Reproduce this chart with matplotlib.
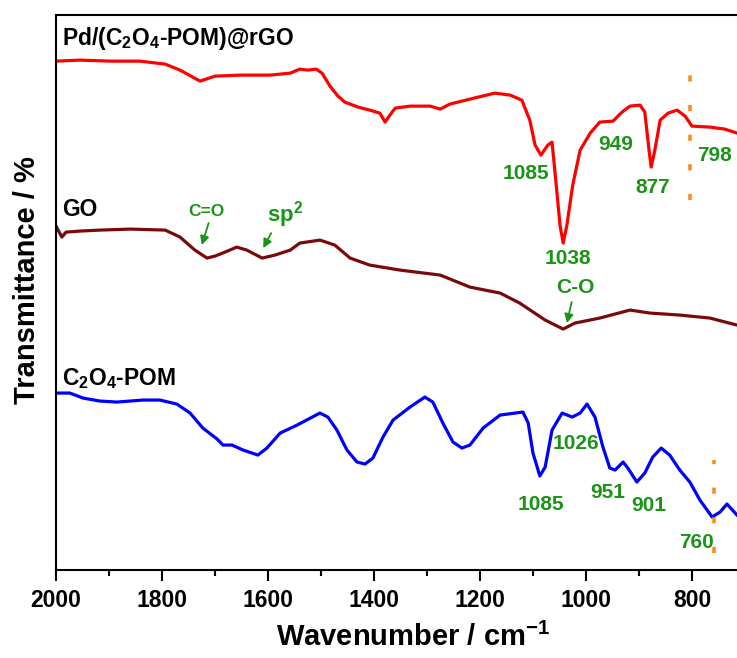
import matplotlib
matplotlib.use('Agg')
from matplotlib import pyplot as plt
from matplotlib.ticker import MultipleLocator

plt.rcParams['font.family'] = ['Liberation Sans', 'DejaVu Sans']
plt.rcParams['font.weight'] = 'bold'
plt.rcParams['axes.labelweight'] = 'bold'
plt.rcParams['mathtext.fontset'] = 'custom'
plt.rcParams['mathtext.rm'] = 'Liberation Sans:bold'
plt.rcParams['mathtext.default'] = 'rm'

# Pd/(C2O4-POM)@rGO (red)
wn_pd = [2000, 1955, 1898, 1842, 1794, 1766, 1742, 1728, 1717, 1700,
         1653, 1596, 1558, 1540, 1525, 1509, 1498, 1483, 1468, 1455,
         1430, 1408, 1389, 1379, 1370, 1360, 1332, 1294, 1275, 1257,
         1219, 1172, 1143, 1121, 1106, 1096, 1085, 1072, 1064, 1057,
         1049, 1043, 1036, 1025, 1011, 992, 974, 949, 932, 917,
         898, 889, 881, 877, 870, 860, 845, 828, 813, 800,
         766, 738, 715]
t_pd = [509, 510, 509, 509, 506, 500, 493, 489, 491, 494,
        495, 495, 497, 501, 500, 501, 497, 484, 474, 468,
        463, 460, 457, 448, 455, 462, 464, 464, 461, 466,
        471, 477, 475, 470, 450, 425, 415, 425, 428, 390,
        345, 327, 345, 385, 420, 437, 448, 449, 458, 464,
        465, 458, 420, 403, 420, 450, 457, 460, 454, 444,
        443, 441, 437]

# GO (dark red)
wn_go = [2000, 1989, 1981, 1955, 1917, 1860, 1794, 1766, 1738, 1715,
         1700, 1681, 1659, 1640, 1611, 1587, 1558, 1540, 1502, 1474,
         1445, 1408, 1351, 1275, 1219, 1162, 1125, 1077, 1043, 1021,
         974, 917, 879, 823, 766, 715]
t_go = [344, 333, 338, 339, 340, 341, 340, 333, 320, 312,
        314, 318, 323, 320, 312, 315, 320, 327, 330, 325,
        312, 305, 300, 295, 283, 277, 267, 250, 241, 247,
        252, 260, 257, 255, 252, 245]

# C2O4-POM (blue)
wn_pom = [2000, 1974, 1949, 1917, 1885, 1836, 1804, 1772, 1747, 1723,
          1696, 1685, 1668, 1647, 1619, 1602, 1577, 1545, 1502, 1487,
          1470, 1451, 1432, 1417, 1402, 1383, 1364, 1332, 1304, 1289,
          1270, 1251, 1234, 1219, 1194, 1162, 1119, 1109, 1100, 1087,
          1077, 1064, 1045, 1026, 1011, 998, 983, 968, 955, 945,
          930, 921, 904, 889, 874, 858, 842, 823, 804, 785,
          762, 747, 734, 715]
t_pom = [177, 177, 172, 169, 168, 170, 170, 166, 157, 142,
         131, 125, 125, 120, 115, 122, 137, 145, 157, 153,
         140, 120, 108, 106, 112, 133, 150, 163, 173, 168,
         147, 128, 122, 125, 142, 155, 158, 147, 117, 94,
         103, 140, 157, 153, 157, 166, 153, 123, 102, 100,
         108, 102, 88, 97, 113, 122, 115, 100, 88, 70,
         53, 58, 66, 55]

# peak labels (text, x, y)
pd_peaks = [('1085', 1113, 397), ('1038', 1034, 312), ('949', 943, 426),
            ('877', 875, 383), ('798', 757, 415)]
pom_peaks = [('1026', 1019, 127), ('1085', 1085, 66), ('951', 958, 78),
             ('901', 881, 65), ('760', 791, 28)]

green = '#1a9416'
orange = '#ff8c1a'

fig = plt.figure(figsize=(7.37, 6.58), dpi=100)
ax = fig.add_axes([0.076, 0.1337, 0.924, 0.8433])

ax.plot(wn_pd, t_pd, color='#ff0000', lw=2.3)
ax.plot(wn_go, t_go, color='#7a0a0a', lw=2.3)
ax.plot(wn_pom, t_pom, color='#0000ff', lw=2.3)

ax.set_xlim(2000, 715)
ax.set_ylim(0, 555)

# orange dotted markers
ax.plot([803, 803], [370, 508], color=orange, lw=2.6, ls=(0, (1.7, 6.5)))
ax.plot([758, 758], [17, 110], color=orange, lw=2.6, ls=(0, (1.7, 6.5)))

# sample names
ax.text(1988, 532, 'Pd/(C$_2$O$_4$-POM)@rGO', fontsize=16.5, va='center')
ax.text(1988, 361, 'GO', fontsize=16.5, va='center')
ax.text(1989, 192, 'C$_2$O$_4$-POM', fontsize=16.5, va='center')

for s, x, y in pd_peaks + pom_peaks:
    ax.text(x, y, s, color=green, fontsize=15, ha='center', va='center')

# band assignments
arr = dict(arrowstyle='-|>', mutation_scale=13, color=green, lw=1.3,
           shrinkA=0, shrinkB=0)
ax.text(1717, 359, 'C=O', color=green, fontsize=12.5, ha='center', va='center')
ax.annotate('', xy=(1725, 325), xytext=(1712, 347), arrowprops=arr)
ax.text(1568, 356, 'sp$^2$', color=green, fontsize=16, ha='center', va='center')
ax.annotate('', xy=(1609, 322), xytext=(1594, 337), arrowprops=arr)
ax.text(1021, 283, 'C-O', color=green, fontsize=15, ha='center', va='center')
ax.annotate('', xy=(1036, 247), xytext=(1027, 268), arrowprops=arr)

ax.spines['right'].set_visible(False)
for sp in ['top', 'bottom', 'left']:
    ax.spines[sp].set_linewidth(1.5)

ax.xaxis.set_major_locator(MultipleLocator(200))
ax.xaxis.set_minor_locator(MultipleLocator(100))
ax.tick_params(axis='x', which='major', length=8, width=1.5, labelsize=16.5, pad=6)
ax.tick_params(axis='x', which='minor', length=4.5, width=1.5)
ax.set_yticks([])

ax.set_xlabel('Wavenumber / cm$^{-1}$', fontsize=21, labelpad=12)
ax.xaxis.set_label_coords(0.524, -0.095)
ax.set_ylabel('Transmittance / %', fontsize=21)
ax.yaxis.set_label_coords(-0.022, 0.5225)

fig.savefig('out.png', dpi=100)
